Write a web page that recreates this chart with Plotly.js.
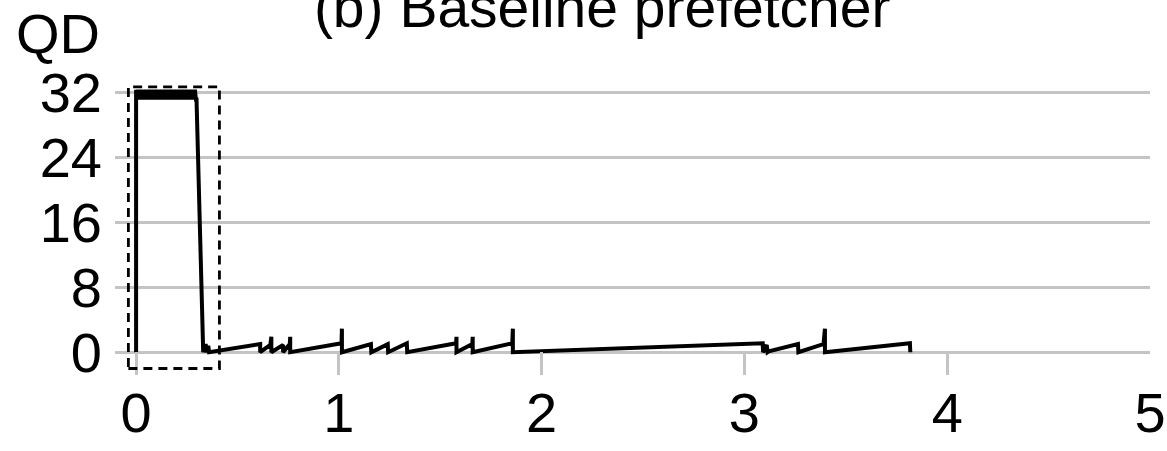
<!DOCTYPE html>
<html>
<head>
<meta charset="utf-8">
<script src="https://cdn.plot.ly/plotly-3.0.1.min.js"></script>
<style>
html,body{margin:0;padding:0;background:#fff;}
#chart{width:1167px;height:451px;}
</style>
</head>
<body>
<div id="chart"></div>
<script>
// Time (s) and queue depth
var bandTime = [0, 0, 0.005, 0.01, 0.015, 0.02, 0.025, 0.03, 0.035, 0.04, 0.045, 0.05, 0.055, 0.06, 0.065, 0.07, 0.075, 0.08, 0.085, 0.09, 0.095, 0.10, 0.105, 0.11, 0.115, 0.12, 0.125, 0.13, 0.135, 0.14, 0.145, 0.15, 0.155, 0.16, 0.165, 0.17, 0.175, 0.18, 0.185, 0.19, 0.195, 0.20, 0.205, 0.21, 0.215, 0.22, 0.225, 0.23, 0.235, 0.24, 0.245, 0.25, 0.255, 0.26, 0.265, 0.27, 0.275, 0.28, 0.285, 0.29, 0.295, 0.298];
var bandQD   = [0, 32.3, 31.1, 32.3, 31.1, 32.3, 31.1, 32.3, 31.1, 32.3, 31.1, 32.3, 31.1, 32.3, 31.1, 32.3, 31.1, 32.3, 31.1, 32.3, 31.1, 32.3, 31.1, 32.3, 31.1, 32.3, 31.1, 32.3, 31.1, 32.3, 31.1, 32.3, 31.1, 32.3, 31.1, 32.3, 31.1, 32.3, 31.1, 32.3, 31.1, 32.3, 31.1, 32.3, 31.1, 32.3, 31.1, 32.3, 31.1, 32.3, 31.1, 32.3, 31.1, 32.3, 31.1, 32.3, 31.1, 32.3, 31.1, 32.3, 31.1, 31.1];
var tailTime = [0.331, 0.343, 0.348, 0.356, 0.36,
  0.612, 0.612,
  0.662, 0.667, 0.667,
  0.725, 0.725,
  0.758, 0.760, 0.760,
  1.013, 1.015, 1.015,
  1.158, 1.160,
  1.241, 1.243,
  1.335, 1.337,
  1.578, 1.580, 1.580,
  1.658, 1.660, 1.660,
  1.855, 1.858, 1.858,
  3.090, 3.092, 3.110, 3.114, 3.120,
  3.264, 3.266,
  3.390, 3.397, 3.397,
  3.816, 3.818];
var tailQD = [0, 1.0, 0, 0.8, 0,
  1.0, 0,
  0.9, 1.9, 0,
  0.9, 0,
  1.0, 1.9, 0,
  1.1, 2.9, 0,
  1.0, 0,
  1.0, 0,
  1.1, 0,
  1.1, 1.9, 0,
  1.0, 1.9, 0,
  1.1, 2.9, 0,
  1.1, 0, 0.9, 0, 0.1,
  1.0, 0,
  1.0, 2.9, 0,
  1.1, 0];
var xTicks = [0, 1, 2, 3, 4, 5];
var yTicks = [0, 8, 16, 24, 32];
var titleText = '(b) Baseline prefetcher';
var yLabel = 'QD';
// highlighted region (dashed box)
var boxX = [-0.038, 0.411];
var boxY = [-2.0, 32.65];

var FONT = 'Liberation Sans, Arial, Helvetica, sans-serif';
var grid = '#c4c4c4';

var trace = {
  x: bandTime.concat(tailTime),
  y: bandQD.concat(tailQD),
  type: 'scatter',
  mode: 'lines',
  line: {color: '#000', width: 4},
  hoverinfo: 'skip'
};

var layout = {
  width: 1167, height: 451,
  margin: {l: 115, r: 17, t: 84, b: 76},
  paper_bgcolor: '#fff', plot_bgcolor: '#fff',
  showlegend: false,
  font: {family: FONT, size: 56, color: '#000'},
  title: {text: titleText, font: {family: FONT, size: 57, color: '#000'},
          xref: 'paper', x: (602 - 115) / 1034.6, xanchor: 'center',
          yref: 'container', y: 0.985, yanchor: 'middle'},
  xaxis: {
    range: [-0.104, 5.0], tickvals: xTicks, ticktext: xTicks.map(String),
    showgrid: false, zeroline: false, showline: false,
    ticks: 'inside', ticklen: 23, tickwidth: 3, tickcolor: grid,
    tickfont: {family: FONT, size: 56, color: '#000'}
  },
  yaxis: {
    range: [-2.8, 33], tickvals: yTicks, ticktext: yTicks.map(String),
    showgrid: true, gridcolor: grid, gridwidth: 3,
    zeroline: false, showline: false, ticks: '',
    ticklabelstandoff: 12,
    tickfont: {family: FONT, size: 56, color: '#000'}
  },
  shapes: [{
    type: 'rect', xref: 'x', yref: 'y',
    x0: boxX[0], x1: boxX[1], y0: boxY[0], y1: boxY[1],
    line: {color: '#000', width: 2.8, dash: '9px,6px'},
    fillcolor: 'rgba(0,0,0,0)', layer: 'above'
  }],
  annotations: [{
    text: yLabel, xref: 'paper', yref: 'paper',
    x: (58 - 115) / 1034.6, y: (375 - 34) / 291,
    xanchor: 'center', yanchor: 'middle', showarrow: false,
    font: {family: FONT, size: 56, color: '#000'}
  }]
};

Plotly.newPlot('chart', [trace], layout, {displayModeBar: false, staticPlot: true});
</script>
</body>
</html>
